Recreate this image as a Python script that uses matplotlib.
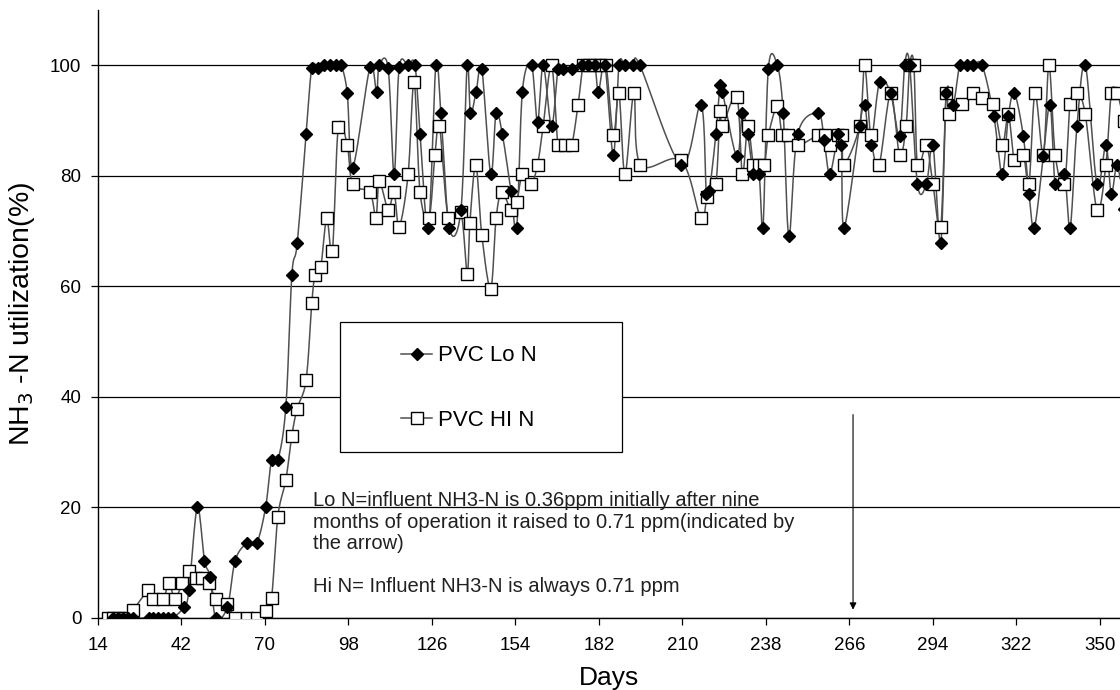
import matplotlib
matplotlib.use("Agg")
import matplotlib.pyplot as plt
import numpy as np
from matplotlib.patches import Rectangle
from matplotlib.lines import Line2D

# PVC Lo N (diamonds)
lo_days = [19, 20.7, 22.4, 24, 25.7,
           31, 32.6, 34.2, 35.8, 37.4, 39,
           42.9, 44.5, 47.3, 49.7, 51.6, 53.5, 57.4, 60, 63.9, 67.2, 70.2, 72.2, 74.3, 77,
           79, 80.8, 83.8, 85.7, 87.9, 89.9, 91.8, 93.7, 95.5, 97.6, 99.4,
           105.2, 107.4, 108.3, 111.3, 113.3, 115, 118, 120.3, 122, 124.8, 127.3, 129,
           131.8, 135.7, 137.8, 138.9, 140.8, 142.7, 145.7, 147.5, 149.6, 152.5, 154.4,
           156.3, 159.4, 161.4, 163.3, 166.1, 168.3, 170, 172.8, 176.2, 178.4, 180.6,
           181.8, 184, 186.8, 188.7, 190.7, 193.5, 195.7, 209.5, 216.2, 218, 219, 221.2,
           222.6, 223.4, 228.2, 230.1, 231.9, 233.8, 235.7, 237, 238.8, 241.8, 243.8,
           245.7, 248.6, 255.5, 257.5, 259.4, 262.2, 263.3, 264.2, 269.4, 271.1, 273.1,
           276.1, 279.8, 282.8, 284.5, 286.2, 288.8, 291.8, 294, 296.6, 298.5, 300.8,
           303, 305.3, 307.5, 310.5, 314.4, 317.2, 319.3, 321.3, 324.3, 326.2, 328,
           331, 333.3, 335, 338.1, 340, 342.3, 345.1, 349, 352, 353.8, 355.8, 358]
lo_vals = [0, 0, 0, 0, 0,
           0, 0, 0, 0, 0, 0,
           2, 5, 20, 10.4, 7.5, 0, 2, 10.4, 13.5, 13.5, 20, 28.5, 28.5, 38.2,
           62, 67.8, 87.5, 99.5, 99.5, 100, 100, 100, 100, 94.9, 81.5,
           99.6, 95.2, 100, 99.5, 80.3, 99.6, 100, 100, 87.5, 70.6, 100, 91.3,
           70.6, 73.8, 100, 91.3, 95.2, 99.4, 80.3, 91.3, 87.5, 77.2, 70.6,
           95.2, 100, 89.8, 100, 89, 99.4, 99.4, 99.4, 100, 100, 100,
           95.2, 100, 83.8, 100, 100, 100, 100, 82, 92.9, 76.8, 77.2, 87.5,
           96.5, 95.2, 83.5, 91.3, 87.5, 80.3, 80.3, 70.6, 99.4, 100, 91.3,
           69.1, 87.5, 91.3, 86.5, 80.3, 87.5, 85.5, 70.6, 89, 92.9, 85.5,
           97, 94.9, 87.2, 100, 100, 78.5, 78.5, 85.5, 67.8, 94.9, 92.9,
           100, 100, 100, 100, 90.9, 80.3, 90.9, 94.9, 87.2, 76.8, 70.6,
           83.5, 92.9, 78.5, 80.3, 70.6, 89, 100, 78.5, 85.5, 76.8, 82, 74]

# PVC HI N (open squares)
hi_days = [17.5, 19.1, 21, 23, 25.8, 30.9, 32.5, 35.9, 37.8, 39.8, 42.3, 44.6, 47, 48.8,
           51.3, 53.5, 57.4, 60, 63.9, 67.2, 70.2, 72.2, 74.3, 77, 79, 80.8, 83.8, 85.7,
           86.8, 88.7, 90.7, 92.6, 94.6, 97.6, 99.4, 105.2, 107.2, 108.3, 111.3, 113.3,
           115, 118, 120, 122, 125, 127, 128.5, 131.5, 135.7, 137.8, 138.7, 140.7, 142.7,
           145.7, 147.5, 149.4, 152.5, 154.4, 156.3, 159.2, 161.4, 163.3, 166.1, 168.3,
           170.6, 172.8, 175, 176.7, 178.5, 180.5, 182.3, 184.4, 186.8, 188.7, 190.7,
           193.7, 195.9, 209.5, 216.2, 218.3, 221.2, 222.6, 223.4, 228.2, 230.1, 231.9,
           233.8, 235.7, 237.5, 238.8, 241.8, 243.4, 245.4, 248.6, 255.3, 257.7, 259.4,
           262.2, 263.5, 264.2, 269.4, 271.1, 273.1, 275.9, 279.8, 282.8, 285, 286.2,
           287.6, 288.8, 291.8, 294, 296.6, 298.4, 299.5, 303.6, 307.5, 310.3, 314.2,
           317.2, 319.3, 321.3, 324.3, 326.2, 328.2, 331, 332.9, 335, 338.1, 340, 342.3,
           345.1, 349, 352, 353.8, 355.8, 358]
hi_vals = [0, 0, 0, 0, 1.5, 5, 3.5, 3.5, 6.3, 3.5, 6.3, 8.5, 7.3, 7.3,
           6.3, 3.5, 2.5, 0, 0, 0, 1.2, 3.6, 18.3, 25, 33, 37.9, 43.1, 57,
           62.1, 63.5, 72.3, 66.4, 88.8, 85.5, 78.5, 77, 72.3, 79, 73.9, 77,
           70.8, 80.3, 97, 77, 72.3, 83.8, 89.1, 72.3, 73.4, 62.3, 71.4, 82, 69.3,
           59.6, 72.3, 77, 73.9, 75.3, 80.3, 78.5, 82, 89.1, 100, 85.5,
           85.5, 85.5, 92.9, 100, 100, 100, 100, 100, 87.3, 94.9, 80.3,
           94.9, 82, 82.8, 72.3, 76.2, 78.5, 91.7, 89.1, 94.3, 80.3, 89.1,
           82, 82, 82, 87.3, 92.6, 87.3, 87.3, 85.5, 87.3, 87.3, 85.5,
           87.3, 87.3, 82, 89.1, 100, 87.3, 82, 94.9, 83.8, 89.1, 100,
           100, 82, 85.5, 78.5, 70.7, 94.9, 91.1, 93, 94.9, 94, 93,
           85.5, 91.1, 82.8, 83.8, 78.5, 94.9, 83.8, 100, 83.8, 78.5, 93, 94.9,
           91.1, 73.9, 82, 94.9, 94.9, 90]

x_ticks = list(range(14, 351, 28))
y_ticks = [0, 20, 40, 60, 80, 100]

note_text = ("Lo N=influent NH3-N is 0.36ppm initially after nine\n"
             "months of operation it raised to 0.71 ppm(indicated by\n"
             "the arrow)\n\n"
             "Hi N= Influent NH3-N is always 0.71 ppm")
arrow_day = 267.2


def smooth(x, y, n=14):
    # Excel-like smoothed line: cubic bezier through every point
    p = np.column_stack([x, y]).astype(float)
    out = [p[:1]]
    t = np.linspace(0, 1, n)[1:, None]
    for i in range(len(p) - 1):
        p0 = p[i - 1] if i > 0 else p[i]
        p1, p2 = p[i], p[i + 1]
        p3 = p[i + 2] if i + 2 < len(p) else p[i + 1]
        c1 = p1 + (p2 - p0) / 6
        c2 = p2 - (p3 - p1) / 6
        seg = ((1 - t) ** 3) * p1 + 3 * ((1 - t) ** 2) * t * c1 + 3 * (1 - t) * t ** 2 * c2 + t ** 3 * p2
        out.append(seg)
    c = np.vstack(out)
    return c[:, 0], c[:, 1]


plt.rcParams['font.family'] = ['Liberation Sans', 'DejaVu Sans']

fig = plt.figure(figsize=(11.2, 6.9), dpi=100)
ax = fig.add_axes([98 / 1120, 72 / 690, 1 - 98 / 1120, 608 / 690])

line_col = '#505050'
sx, sy = smooth(hi_days, hi_vals)
ax.plot(sx, sy, color=line_col, lw=1.1, zorder=3)
ax.plot(hi_days, hi_vals, ls='none', marker='s', ms=8, mfc='white', mec='black', mew=1.0, zorder=4)
sx, sy = smooth(lo_days, lo_vals)
ax.plot(sx, sy, color=line_col, lw=1.1, zorder=3)
ax.plot(lo_days, lo_vals, ls='none', marker='D', ms=6.5, mfc='black', mec='black', zorder=5)

ax.set_xlim(14, 14 + 1022 / 2.982)
ax.set_ylim(0, 110)
ax.set_xticks(x_ticks)
ax.set_yticks(y_ticks)
ax.yaxis.grid(True, color='black', lw=0.9)
ax.set_axisbelow(True)
for s in ['top', 'right']:
    ax.spines[s].set_visible(False)
ax.spines['left'].set_linewidth(1.0)
ax.spines['bottom'].set_linewidth(1.0)
ax.tick_params(axis='both', direction='out', length=5, width=0.9, labelsize=13.5)
ax.tick_params(axis='x', pad=9)
ax.tick_params(axis='y', pad=7)

ax.set_xlabel('Days', fontsize=19, labelpad=8)
ax.set_ylabel('NH$_3$ -N utilization(%)', fontsize=20.5, labelpad=9)

ax.annotate('', xy=(arrow_day, 1), xytext=(arrow_day, 37.3),
            arrowprops=dict(arrowstyle='-|>', color='black', lw=0.8, mutation_scale=10))

fig.text(313 / 1120, 1 - 491 / 690, note_text, fontsize=14.5, va='top', ha='left',
         linespacing=1.17, color='#202020')

# legend box
fig.patches.append(Rectangle((340 / 1120, 1 - 452 / 690), 282 / 1120, 130 / 690,
                             transform=fig.transFigure, fill=True, fc='white',
                             ec='black', lw=0.9, zorder=10))
handles = [Line2D([], [], color=line_col, lw=1.1, marker='D', ms=6.5, mfc='black', mec='black'),
           Line2D([], [], color=line_col, lw=1.1, marker='s', ms=8, mfc='white', mec='black')]
leg = fig.legend(handles, ['PVC Lo N', 'PVC HI N'], loc='center left',
                 bbox_to_anchor=(401 / 1120, 1 - 388 / 690), frameon=False,
                 fontsize=16, numpoints=1, handlelength=1.4, handletextpad=0.25,
                 labelspacing=1.95, borderpad=0, borderaxespad=0)
leg.set_zorder(11)

fig.savefig('out.png', dpi=100)
